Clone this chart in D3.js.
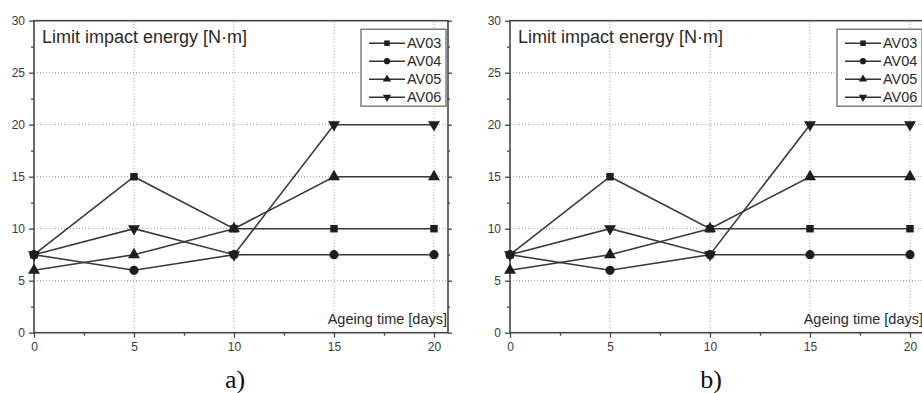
<!DOCTYPE html>
<html>
<head>
<meta charset="utf-8">
<script src="https://cdn.jsdelivr.net/npm/d3@7"></script>
<style>
  body { margin: 0; background: #fff; }
  svg { display: block; font-family: "Liberation Sans", Arial, sans-serif; }
</style>
</head>
<body>
<div id="chart"></div>
<script>
// values
const days = [0, 5, 10, 15, 20];
const seriesNames = ["AV03", "AV04", "AV05", "AV06"];
const av03 = [7.5, 15, 10, 10, 10];
const av04 = [7.5, 6, 7.5, 7.5, 7.5];
const av05 = [6, 7.5, 10, 15, 15];
const av06 = [7.5, 10, 7.5, 20, 20];
const yTicks = [0, 5, 10, 15, 20, 25, 30];
const panelLabels = ["a)", "b)"];

const seriesValues = [av03, av04, av05, av06];
const symbolTypes = [d3.symbolSquare, d3.symbolCircle, d3.symbolTriangle, d3.symbolTriangle];
const markerSizes = [56, 66, 62, 62];

const W = 922, H = 393;
const panelLeft = [34, 510];
const plotTop = 20.7, plotH = 312, plotW = 414;
const sansFont = "'Liberation Sans', Arial, sans-serif";

const svg = d3.select("#chart").append("svg")
  .attr("width", W)
  .attr("height", H);

function marker(sel, i, size) {
  sel.append("path")
    .attr("d", d3.symbol().type(symbolTypes[i]).size(size)())
    .attr("fill", "#1e1e1e")
    .attr("transform", i === 3 ? "rotate(180)" : null);
}

function drawPanel(left, label) {
  const g = svg.append("g").attr("transform", `translate(${left},${plotTop})`);

  const x = d3.scaleLinear().domain([0, 20]).range([0, 400]);
  const y = d3.scaleLinear().domain([0, 30]).range([plotH, 0]);

  // grid
  g.append("g").selectAll("line")
    .data(yTicks.filter(d => d > 0 && d < 30))
    .join("line")
    .attr("x1", 0).attr("x2", plotW)
    .attr("y1", d => y(d)).attr("y2", d => y(d))
    .attr("stroke", "#9a9a9a").attr("stroke-width", 1)
    .attr("stroke-dasharray", "1,2");
  g.append("g").selectAll("line")
    .data(days.filter(d => d > 0))
    .join("line")
    .attr("x1", d => x(d)).attr("x2", d => x(d))
    .attr("y1", 0).attr("y2", plotH)
    .attr("stroke", "#9a9a9a").attr("stroke-width", 1)
    .attr("stroke-dasharray", "1,2");

  // axes
  const axisColor = "#454545";
  const yAxis = g.append("g")
    .call(d3.axisLeft(y).tickValues(yTicks).tickSize(5).tickPadding(4));
  const yMinor = g.append("g")
    .call(d3.axisLeft(y).tickValues(d3.range(2.5, 30, 5)).tickSize(3).tickFormat(""));
  const xAxis = g.append("g")
    .attr("transform", `translate(0,${plotH})`)
    .call(d3.axisBottom(x).tickValues(days).tickSize(5).tickPadding(5));
  const xMinor = g.append("g")
    .attr("transform", `translate(0,${plotH})`)
    .call(d3.axisBottom(x).tickValues(d3.range(2.5, 20, 5)).tickSize(3).tickFormat(""));
  const rMajor = g.append("g")
    .attr("transform", `translate(${plotW},0)`)
    .call(d3.axisRight(y).tickValues(yTicks).tickSize(4).tickFormat(""));
  const rMinor = g.append("g")
    .attr("transform", `translate(${plotW},0)`)
    .call(d3.axisRight(y).tickValues(d3.range(2.5, 30, 5)).tickSize(2).tickFormat(""));

  [yAxis, yMinor, xAxis, xMinor, rMajor, rMinor].forEach(a => {
    a.attr("font-family", sansFont).attr("font-size", 12);
    a.select(".domain").remove();
    a.selectAll("line").attr("stroke", axisColor).attr("stroke-width", 1.3);
    a.selectAll("text").attr("fill", "#3a3a3a");
  });

  // frame
  g.append("rect")
    .attr("x", 0).attr("y", 0)
    .attr("width", plotW).attr("height", plotH)
    .attr("fill", "none")
    .attr("stroke", axisColor).attr("stroke-width", 1.6);

  // series
  const line = d3.line().x((d, i) => x(days[i])).y(d => y(d));
  seriesValues.forEach((vals, i) => {
    g.append("path")
      .datum(vals)
      .attr("d", line)
      .attr("fill", "none")
      .attr("stroke", "#3a3a3a")
      .attr("stroke-width", 1.6);
  });
  seriesValues.forEach((vals, i) => {
    g.append("g").selectAll("g")
      .data(vals)
      .join("g")
      .attr("transform", (d, j) => `translate(${x(days[j])},${y(d)})`)
      .each(function () { marker(d3.select(this), i, markerSizes[i]); });
  });

  // texts
  g.append("text")
    .attr("x", 8).attr("y", 22.5)
    .attr("fill", "#2a2a2a")
    .attr("font-family", sansFont)
    .style("font-size", "18px")
    .text("Limit impact energy [N\u00b7m]");
  g.append("text")
    .attr("x", plotW - 1).attr("y", plotH - 9)
    .attr("text-anchor", "end")
    .attr("fill", "#2a2a2a")
    .attr("font-family", sansFont)
    .style("font-size", "14.5px")
    .text("Ageing time [days]");

  // legend
  const lg = g.append("g").attr("transform", "translate(327,8.5)");
  lg.append("rect")
    .attr("width", 85).attr("height", 77)
    .attr("fill", "#fff")
    .attr("stroke", "#6a6a6a").attr("stroke-width", 1.3);
  seriesNames.forEach((name, i) => {
    const e = lg.append("g").attr("transform", `translate(0,${14 + i * 18})`);
    e.append("line")
      .attr("x1", 8).attr("x2", 44)
      .attr("stroke", "#333").attr("stroke-width", 1.4);
    const m = e.append("g").attr("transform", "translate(26,0)");
    marker(m, i, 30);
    e.append("text")
      .attr("x", 46).attr("y", 5)
      .attr("fill", "#2a2a2a")
      .attr("font-family", sansFont)
      .style("font-size", "14.5px")
      .text(name);
  });

  // panel label
  svg.append("text")
    .attr("x", left + 201).attr("y", 388)
    .attr("text-anchor", "middle")
    .attr("font-family", "'Liberation Serif', 'Times New Roman', serif")
    .style("font-size", "26px")
    .attr("fill", "#111")
    .text(label);
}

panelLeft.forEach((left, k) => drawPanel(left, panelLabels[k]));
</script>
</body>
</html>
